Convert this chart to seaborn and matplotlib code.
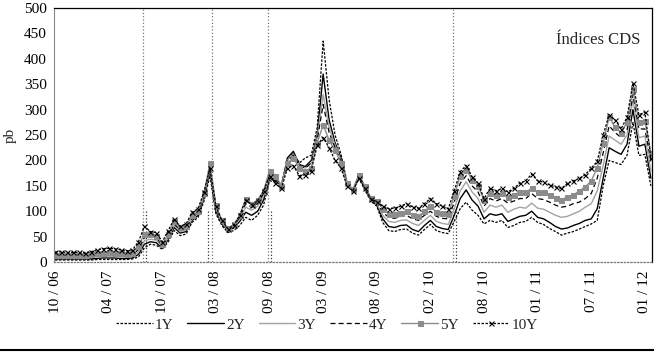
import matplotlib
matplotlib.use('Agg')
import matplotlib.pyplot as plt
from matplotlib.lines import Line2D
import numpy as np
import pandas as pd
import seaborn as sns

# fechas de las marcas del eje x (una cada 9 observaciones)
tick_labels = ['10 / 06', '04 / 07', '10 / 07', '03 / 08', '09 / 08', '03 / 09',
               '08 / 09', '02 / 10', '08 / 10', '01 / 11', '07 / 11', '01 / 12']

cds_10y = [20, 20, 19, 19, 19, 18, 20, 24, 26, 27,
           26, 24, 22, 24, 40, 70, 60, 58, 40, 62,
           85, 70, 75, 98, 105, 138, 185, 110, 82, 66,
           72, 92, 122, 113, 120, 140, 170, 155, 145, 185,
           190, 170, 172, 180, 230, 245, 225, 200, 185, 150,
           140, 165, 145, 125, 118, 110, 105, 106, 110, 115,
           108, 106, 115, 125, 115, 110, 105, 140, 178, 190,
           168, 155, 125, 145, 140, 145, 138, 145, 155, 160,
           173, 160, 157, 152, 148, 145, 155, 160, 165, 172,
           185, 198, 250, 290, 280, 262, 285, 352, 290, 295, 205]

cds_5y = [14, 14, 14, 14, 14, 14, 15, 17, 18, 19,
          18, 17, 16, 18, 32, 55, 55, 52, 35, 55,
          80, 68, 70, 92, 100, 135, 195, 112, 82, 67,
          74, 92, 125, 115, 122, 140, 180, 170, 150, 195,
          205, 185, 180, 185, 235, 270, 240, 220, 195, 155,
          143, 172, 150, 127, 120, 105, 95, 95, 97, 100,
          92, 90, 100, 110, 98, 96, 95, 130, 170, 182,
          162, 150, 122, 135, 132, 135, 128, 132, 138, 138,
          145, 138, 137, 132, 127, 123, 128, 132, 140, 148,
          160, 185, 235, 285, 265, 255, 275, 340, 275, 278, 215]

cds_4y = [10, 10, 10, 10, 10, 10, 11, 12, 13, 14,
          13, 12, 12, 14, 25, 48, 50, 48, 32, 50,
          75, 63, 66, 88, 97, 130, 190, 108, 80, 65,
          72, 88, 115, 108, 115, 135, 175, 165, 150, 198,
          210, 190, 185, 195, 240, 310, 255, 225, 198, 155,
          143, 170, 148, 125, 117, 98, 88, 86, 90, 92,
          85, 82, 92, 100, 90, 86, 85, 118, 155, 170,
          150, 138, 110, 125, 120, 125, 116, 120, 125, 125,
          135, 125, 123, 118, 112, 108, 110, 115, 118, 125,
          135, 165, 215, 268, 255, 245, 260, 330, 262, 262, 200]

cds_3y = [8, 8, 8, 8, 8, 8, 9, 10, 11, 11,
          11, 10, 10, 11, 20, 42, 45, 43, 30, 48,
          72, 60, 63, 85, 95, 128, 185, 105, 78, 63,
          70, 85, 108, 102, 110, 130, 170, 165, 150, 200,
          212, 190, 185, 195, 245, 330, 265, 230, 200, 155,
          143, 170, 146, 124, 115, 92, 80, 78, 82, 83,
          76, 72, 82, 92, 80, 76, 74, 105, 140, 158,
          138, 125, 98, 112, 108, 112, 98, 104, 108, 106,
          116, 106, 104, 98, 92, 88, 90, 95, 100, 108,
          115, 140, 190, 248, 240, 232, 250, 320, 245, 248, 180]

cds_2y = [6, 6, 6, 6, 6, 6, 6, 7, 8, 8,
          8, 7, 7, 8, 15, 35, 40, 38, 27, 45,
          68, 57, 60, 82, 92, 125, 180, 100, 75, 62,
          67, 80, 98, 92, 100, 122, 165, 160, 150, 205,
          218, 192, 188, 200, 250, 370, 280, 235, 205, 155,
          142, 168, 145, 122, 112, 85, 70, 68, 72, 73,
          64, 60, 72, 82, 70, 66, 64, 92, 125, 142,
          122, 110, 85, 95, 92, 95, 80, 85, 90, 92,
          100, 88, 85, 78, 70, 65, 67, 72, 76, 82,
          85, 105, 165, 225, 218, 212, 232, 300, 228, 232, 165]

cds_1y = [4, 4, 4, 4, 4, 4, 4, 5, 5, 5,
          5, 5, 5, 6, 10, 28, 35, 33, 25, 40,
          62, 52, 55, 78, 88, 120, 170, 95, 72, 58,
          62, 72, 88, 82, 92, 112, 160, 158, 152, 200,
          215, 195, 205, 210, 265, 435, 320, 250, 212, 158,
          140, 165, 142, 120, 110, 78, 62, 60, 64, 65,
          57, 53, 64, 74, 62, 58, 56, 80, 105, 118,
          102, 92, 75, 82, 78, 82, 68, 72, 78, 80,
          88, 78, 74, 66, 60, 53, 57, 60, 65, 70,
          75, 82, 150, 200, 196, 192, 210, 275, 210, 212, 150]

# eventos (en posiciones del indice de observaciones)
event_full = [14.8, 26.3, 35.7, 66.8]
event_short = [15.2, 25.6, 36.2, 67.3]

series = {'1Y': cds_1y, '2Y': cds_2y, '3Y': cds_3y,
          '4Y': cds_4y, '5Y': cds_5y, '10Y': cds_10y}
obs = np.arange(len(cds_10y))

styles = {
    '1Y': dict(color='black', linestyle=(0, (2.0, 1.2)), linewidth=0.9),
    '2Y': dict(color='black', linestyle='-', linewidth=1.0),
    '3Y': dict(color='#a3a3a3', linestyle='-', linewidth=1.0),
    '4Y': dict(color='black', linestyle=(0, (4.0, 2.5)), linewidth=0.9),
    '5Y': dict(color='#8c8c8c', linestyle='-', linewidth=1.0, marker='s',
               markersize=3.6, markeredgecolor='#8c8c8c', markerfacecolor='#8c8c8c'),
    '10Y': dict(color='black', linestyle=(0, (2.0, 1.2)), linewidth=0.9, marker='x',
                markersize=3.6, markeredgecolor='black', markeredgewidth=0.8),
}

sns.set_style('white')
plt.rcParams['font.family'] = ['Liberation Serif', 'DejaVu Serif']

fig = plt.figure(figsize=(6.54, 3.57), dpi=100)
ax = fig.add_axes([0.0826, 0.266, 0.9144, 0.7114])

for xv in event_full:
    ax.axvline(xv, color='#777777', linestyle=':', linewidth=0.9, zorder=1)
for xv in event_short:
    ax.vlines(xv, 0, 100, color='#333333', linestyle=':', linewidth=0.9, zorder=1)

df = pd.DataFrame(series)
df['obs'] = obs
for name in ['1Y', '2Y', '3Y', '4Y', '5Y', '10Y']:
    sns.lineplot(data=df, x='obs', y=name, ax=ax, label=name, **styles[name])

ax.set_xlim(-0.17, 100.2)
ax.set_ylim(0, 500)
ax.set_yticks(np.arange(0, 501, 50))
ax.set_xticks(np.arange(0, 9 * len(tick_labels), 9))
ax.set_xticklabels(tick_labels, rotation=90)
ax.tick_params(axis='both', labelsize=11, length=3, width=0.7, direction='out',
               colors='black', pad=2)
ax.tick_params(axis='x', pad=3)
ax.set_xlabel('')
ax.set_ylabel('pb', fontsize=11)
ax.yaxis.set_label_coords(-0.062, 0.5)

for side in ['top', 'right']:
    ax.spines[side].set_color('black')
    ax.spines[side].set_linewidth(0.9)
ax.spines['left'].set_color('#888888')
ax.spines['left'].set_linewidth(0.8)
ax.spines['bottom'].set_color('#777777')
ax.spines['bottom'].set_linestyle(':')
ax.spines['bottom'].set_linewidth(0.9)

ax.text(0.98, 0.874, 'Índices CDS', transform=ax.transAxes, ha='right',
        va='center', fontsize=12)

handles, labels = ax.get_legend_handles_labels()
ax.get_legend().remove()
fig.legend(handles, labels, loc='center', bbox_to_anchor=(0.5, 0.09), ncol=6,
           frameon=False, fontsize=11, handlelength=2.4, handletextpad=0.15,
           columnspacing=0.9, numpoints=1)

fig.add_artist(Line2D([0.0, 1.0], [0.02, 0.02], transform=fig.transFigure,
                      color='black', linewidth=1.5))

fig.savefig('out.png', dpi=100)
